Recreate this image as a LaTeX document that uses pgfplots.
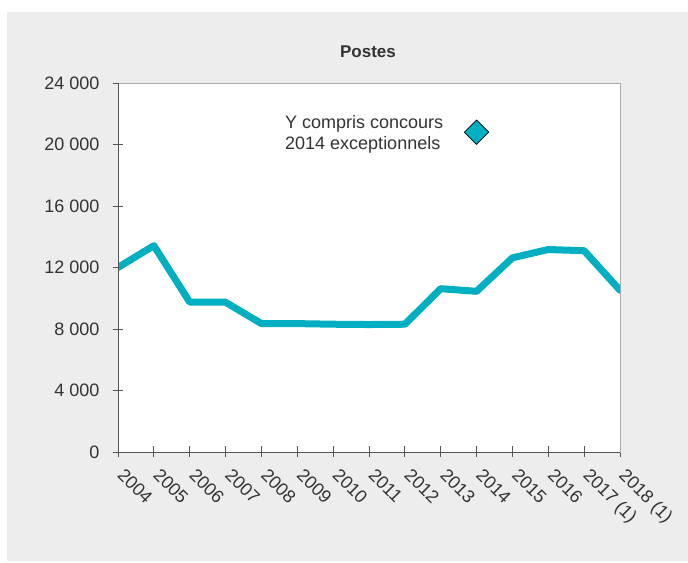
\documentclass[border=0pt]{standalone}
\usepackage{fontspec}
\setmainfont{Liberation Sans}
\usepackage{pgfplots}
\pgfplotsset{compat=1.18}
\definecolor{panel}{HTML}{EDEDED}
\definecolor{teal1}{HTML}{00B0C2}
\definecolor{txt}{HTML}{333333}
\definecolor{axdark}{HTML}{555555}
\definecolor{axlight}{HTML}{ABABAB}
\begin{document}
\begin{tikzpicture}[x=1bp,y=1bp]
\path[use as bounding box] (0,0) rectangle (688,563);
\fill[panel] (7,2) rectangle (688,551);
\node[font=\fontsize{17bp}{20bp}\selectfont\bfseries, text=txt] at (368,511) {Postes};
\begin{axis}[
    at={(118bp,111bp)}, anchor=south west,
    scale only axis, width=502bp, height=369bp,
    xmin=2004, xmax=2018, ymin=0, ymax=24000,
    scaled y ticks=false,
    xtick={2004,...,2018},
    xticklabels={2004,2005,2006,2007,2008,2009,2010,2011,2012,2013,2014,2015,2016,2017 (1),2018 (1)},
    ytick={0,4000,...,24000},
    yticklabels={0,4 000,8 000,12 000,16 000,20 000,24 000},
    axis background/.style={fill=white},
    axis line style={axlight, line width=0.8bp},
    tick align=center, major tick length=11bp,
    tick style={axdark, line width=0.8bp},
    xtick pos=bottom, ytick pos=left,
    ticklabel style={font=\fontsize{18bp}{21bp}\selectfont, text=txt, inner sep=0pt},
    xticklabel style={xshift=7.5bp, yshift=-9.5bp, rotate=-45, anchor=north west},
    xticklabel shift=0pt,
    yticklabel style={anchor=east, xshift=-13bp},
    yticklabel shift=0pt,
    after end axis/.code={
        \draw[axdark, line width=0.9bp] (rel axis cs:0,1) -- (rel axis cs:0,0) -- (rel axis cs:1,0);
    },
]
\addplot[teal1, line width=7bp, line join=round, line cap=round] coordinates {
    (2004,12000) (2005,13420) (2006,9750) (2007,9740) (2008,8350) (2009,8350)
    (2010,8310) (2011,8290) (2012,8310) (2013,10620) (2014,10450) (2015,12630)
    (2016,13170) (2017,13090) (2018,10520)
};
\addplot[only marks, mark=square*, mark size=8.6bp,
    mark options={rotate=45, fill=teal1, draw=black, line width=0.7bp}]
    coordinates {(2014,20800)};
\end{axis}
\node[anchor=north west, inner sep=0pt, align=left, text=txt,
    font=\fontsize{18bp}{21bp}\selectfont] at (285,448)
    {Y compris concours\\2014 exceptionnels};
\end{tikzpicture}
\end{document}
